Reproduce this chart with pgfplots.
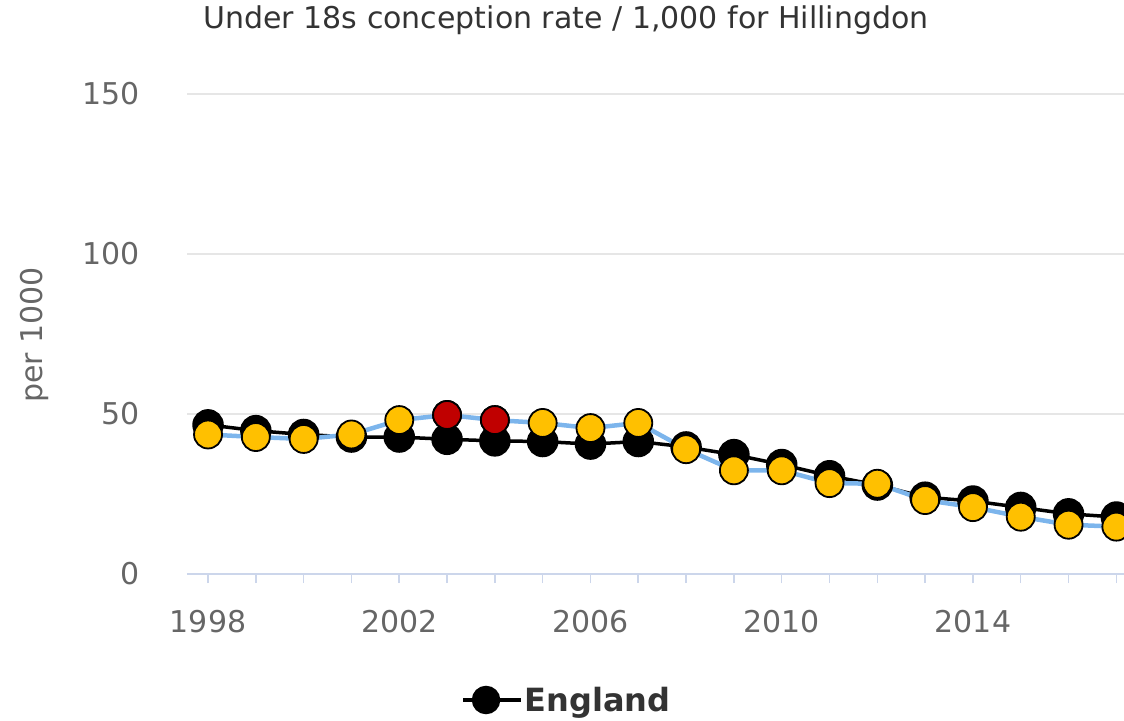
\documentclass[border=0pt]{standalone}
\usepackage{pgfplots}
\pgfplotsset{compat=1.18}
\usepackage{fontspec}
\setmainfont{DejaVu Sans}
\definecolor{hblue}{HTML}{7CB5EC}
\definecolor{hyel}{HTML}{FFC000}
\definecolor{hred}{HTML}{C00000}
\definecolor{axcol}{HTML}{CCD6EB}
\definecolor{gridc}{HTML}{E6E6E6}
\definecolor{tickc}{HTML}{666666}
\definecolor{titc}{HTML}{333333}
\begin{document}
\begin{tikzpicture}[x=1pt,y=1pt]
\begin{axis}[
  at={(187pt,146pt)}, anchor=south west,
  scale only axis, width=937pt, height=480pt,
  xmin=1997.56, xmax=2017.16, ymin=0, ymax=150,
  axis x line*=bottom, axis y line*=left,
  y axis line style={draw=none},
  x axis line style={draw=axcol, line width=1.5pt},
  xtick={1998,2002,2006,2010,2014},
  minor xtick={1998,...,2017},
  xticklabels={1998,2002,2006,2010,2014},
  ytick={0,50,100,150},
  tick align=outside,
  major tick length=9pt, minor tick length=9pt,
  xtick style={draw=axcol, line width=1.5pt},
  minor x tick style={draw=axcol, line width=1.5pt},
  ytick style={draw=none},
  ymajorgrids, grid style={draw=gridc, line width=1.5pt},
  /pgf/number format/assume math mode=true,
  /pgf/number format/1000 sep={},
  ticklabel style={font=\fontsize{30}{34}\selectfont, text=tickc},
  xticklabel style={inner sep=0pt, anchor=north, yshift=-27pt},
  yticklabel style={inner sep=0pt, anchor=east, xshift=-38pt},
  ylabel={per 1000},
  ylabel style={at={(axis description cs:-0.163,0.498)}, anchor=center, rotate=0, font=\fontsize{30}{34}\selectfont, text=tickc},
  title={Under 18s conception rate / 1,000 for Hillingdon},
  title style={at={(axis description cs:0.4045,1.1417)}, anchor=center, font=\fontsize{30}{34}\selectfont, text=titc},
  legend style={at={(axis description cs:0.4055,-0.2625)}, anchor=center, draw=none, fill=none, font=\bfseries\fontsize{32}{36}\selectfont, text=titc},
  legend cell align=left,
  clip=false,
]
\addplot[black, line width=3.5pt, mark=*, mark size=14pt, mark options={fill=black, draw=black}, legend image code/.code={\draw[black, line width=3.5pt] (0pt,0pt) -- (46pt,0pt); \fill[black] (23pt,0pt) circle (12.5pt); \path (0pt,0pt) -- (58pt,0pt);}]
coordinates {(1998,46.6)(1999,44.8)(2000,43.6)(2001,42.8)(2002,42.8)(2003,42.1)(2004,41.6)(2005,41.4)(2006,40.6)(2007,41.4)(2008,39.7)(2009,37.3)(2010,34.2)(2011,30.7)(2012,27.8)(2013,24.0)(2014,22.8)(2015,20.8)(2016,18.8)(2017,17.8)};
\addlegendentry{England}
\addplot[hblue, line width=4.5pt, mark=*, mark size=14pt, mark options={fill=hyel, draw=black, line width=1.8pt}, forget plot]
coordinates {(1998,43.6)(1999,42.8)(2000,42.2)(2001,43.6)(2002,48.1)(2003,49.7)(2004,48.1)(2005,47.2)(2006,45.6)(2007,47.2)(2008,39.0)(2009,32.4)(2010,32.4)(2011,28.4)(2012,28.2)(2013,23.1)(2014,20.9)(2015,17.9)(2016,15.4)(2017,14.8)};
\addplot[only marks, mark=*, mark size=14pt, mark options={fill=hred, draw=black, line width=1.8pt}, forget plot]
coordinates {(2003,49.7)(2004,48.1)};
\end{axis}
\pgfresetboundingbox
\useasboundingbox (0pt,0pt) rectangle (1124pt,720pt);
\end{tikzpicture}
\end{document}
